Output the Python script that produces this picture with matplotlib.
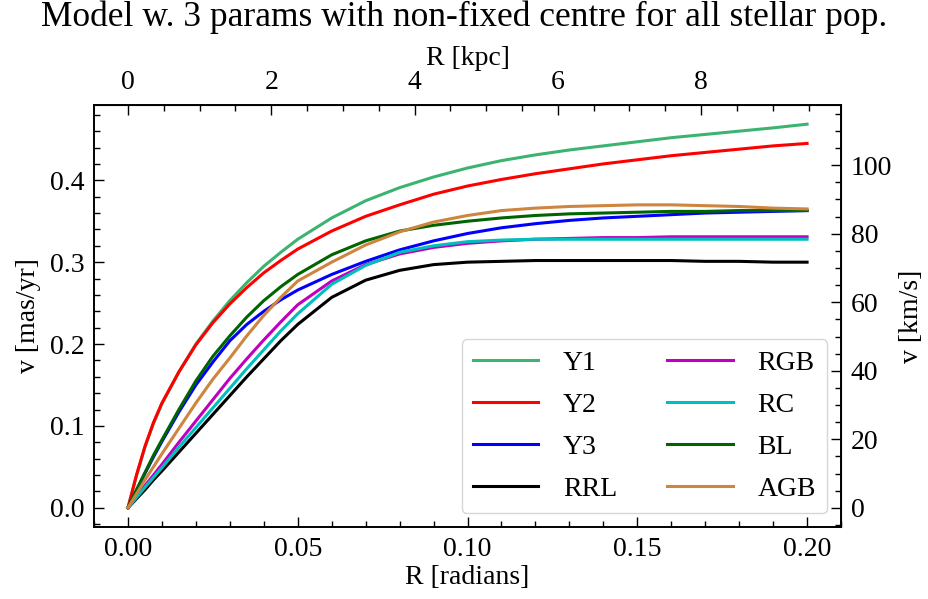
import numpy as np
import matplotlib
matplotlib.use("Agg")
import matplotlib.pyplot as plt

plt.rcParams["font.family"] = ["Liberation Serif", "DejaVu Serif"]
plt.rcParams["mathtext.fontset"] = "stix"

# radial grid [radians]
R = [0.0, 0.0025, 0.005, 0.0075, 0.01, 0.015, 0.02, 0.025, 0.03, 0.035, 0.04,
     0.045, 0.05, 0.06, 0.07, 0.08, 0.09, 0.10, 0.11, 0.12, 0.13, 0.14, 0.15,
     0.16, 0.17, 0.18, 0.19, 0.20]

# rotation curves [mas/yr]
Y1 = [0, .039, .074, .103, .127, .166, .200, .228, .253, .275, .295, .312, .328,
      .354, .375, .391, .404, .415, .424, .431, .437, .442, .447, .452, .456,
      .460, .464, .4685]
Y2 = [0, .040, .075, .104, .128, .166, .199, .226, .249, .269, .287, .302, .316,
      .338, .356, .370, .383, .393, .401, .408, .414, .420, .425, .430, .434,
      .438, .442, .445]
Y3 = [0, .021, .042, .062, .081, .117, .150, .178, .204, .224, .240, .254, .266,
      .285, .301, .315, .326, .335, .342, .347, .351, .354, .356, .358, .360,
      .361, .362, .363]
RRL = [0, .011, .022, .034, .045, .068, .091, .114, .137, .160, .182, .204, .224,
       .257, .278, .290, .297, .300, .301, .302, .302, .302, .302, .302, .301,
       .301, .300, .300]
RGB = [0, .0135, .027, .040, .053, .080, .106, .132, .158, .182, .205, .227, .248,
       .277, .297, .310, .318, .323, .326, .328, .329, .330, .330, .331, .331,
       .331, .331, .331]
RC = [0, .0125, .025, .037, .049, .074, .098, .122, .146, .170, .193, .216, .237,
      .273, .296, .312, .320, .325, .327, .328, .328, .328, .328, .328, .328,
      .328, .328, .328]
BL = [0, .022, .043, .064, .083, .120, .155, .185, .210, .233, .253, .270, .285,
      .309, .326, .338, .345, .350, .354, .357, .359, .360, .361, .362, .362,
      .363, .363, .363]
AGB = [0, .017, .034, .050, .066, .097, .128, .157, .183, .210, .235, .257, .277,
       .300, .321, .337, .349, .357, .363, .366, .368, .369, .370, .370, .369,
       .368, .366, .365]

series = [("Y1", Y1, "mediumseagreen"), ("Y2", Y2, "red"), ("Y3", Y3, "blue"),
          ("RRL", RRL, "black"), ("RGB", RGB, "m"), ("RC", RC, "c"),
          ("BL", BL, "darkgreen"), ("AGB", AGB, "peru")]

KPC_PER_RAD = 47.4     # distance used for the top axis
KMS_PER_MASYR = 239.0  # 4.74 * d for the right axis

FS = 20

fig = plt.figure(figsize=(9.29, 5.99), dpi=100)
ax = fig.add_axes([0.1012, 0.1202, 0.8041, 0.7045])

for name, v, c in series:
    ax.plot(R, v, color=c, lw=2.2, label=name)

ax.set_xlabel("R [radians]", fontsize=FS, labelpad=2)
ax.set_ylabel("v [mas/yr]", fontsize=FS, labelpad=6)
ax.set_xticks([0.0, 0.05, 0.10, 0.15, 0.20])
ax.set_yticks([0.0, 0.1, 0.2, 0.3, 0.4])
ax.xaxis.set_minor_locator(matplotlib.ticker.MultipleLocator(0.01))
ax.yaxis.set_minor_locator(matplotlib.ticker.MultipleLocator(0.02))
ax.tick_params(which="both", direction="in", top=False, right=False,
               labelsize=FS, width=1.0, pad=7)
ax.tick_params(which="major", length=7)
ax.tick_params(which="minor", length=4)
for s in ax.spines.values():
    s.set_linewidth(1.4)

top = ax.secondary_xaxis("top", functions=(lambda x: x * KPC_PER_RAD,
                                           lambda k: k / KPC_PER_RAD))
top.set_xlabel("R [kpc]", fontsize=FS, labelpad=4)
top.set_xticks([0, 2, 4, 6, 8])
top.xaxis.set_minor_locator(matplotlib.ticker.MultipleLocator(0.5))
top.tick_params(which="both", direction="in", labelsize=FS, width=1.0, pad=7)
top.tick_params(which="major", length=7)
top.tick_params(which="minor", length=4)

right = ax.secondary_yaxis("right", functions=(lambda v: v * KMS_PER_MASYR,
                                               lambda k: k / KMS_PER_MASYR))
right.set_ylabel("v [km/s]", fontsize=FS, labelpad=5)
right.set_yticks([0, 20, 40, 60, 80, 100])
right.yaxis.set_minor_locator(matplotlib.ticker.MultipleLocator(5))
right.tick_params(which="both", direction="in", labelsize=FS, width=1.0, pad=7)
right.tick_params(which="major", length=7)
right.tick_params(which="minor", length=4)

ax.legend(loc="lower right", ncol=2, fontsize=FS, handlelength=2.35,
          handletextpad=0.9, columnspacing=1.8, labelspacing=0.6,
          frameon=True, fancybox=True, edgecolor="0.8")

fig.suptitle("Model w. 3 params with non-fixed centre for all stellar pop.",
             fontsize=25.5, y=1.0)

fig.savefig("out.png", dpi=100)
